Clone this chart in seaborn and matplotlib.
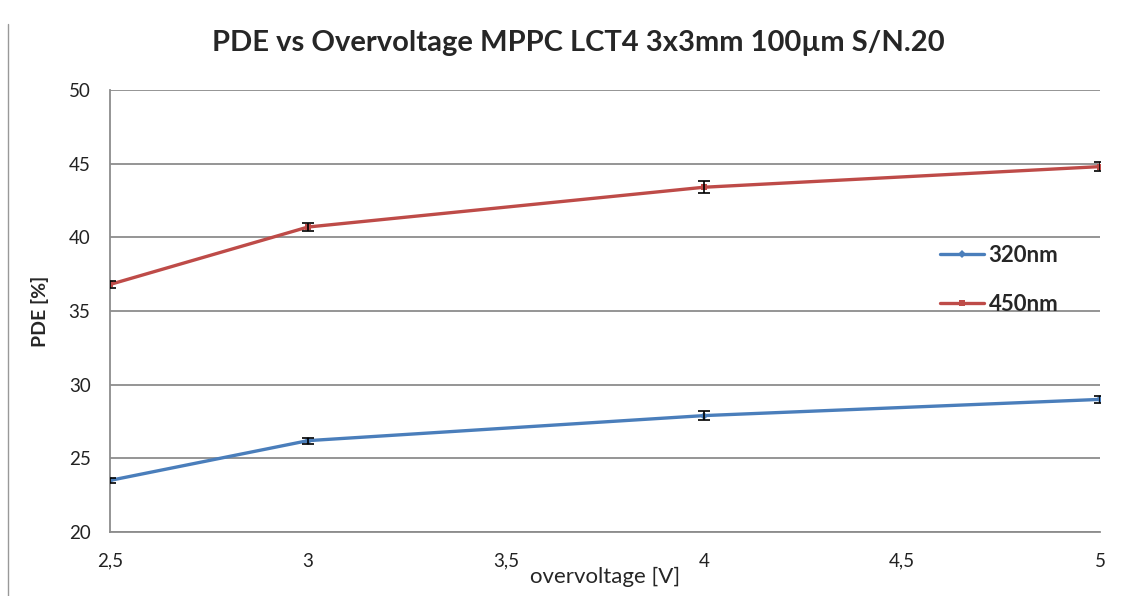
import numpy as np
import pandas as pd
import seaborn as sns
import matplotlib
matplotlib.use('Agg')
import matplotlib.pyplot as plt

overvoltage = [2.5, 3, 4, 5]
pde_320 = [23.5, 26.2, 27.9, 29.0]
pde_450 = [36.8, 40.7, 43.4, 44.8]
err_320 = [0.15, 0.2, 0.3, 0.25]
err_450 = [0.25, 0.3, 0.4, 0.3]
series = ['320nm', '450nm']

xticks = [2.5, 3, 3.5, 4, 4.5, 5]
xtick_labels = ['2,5', '3', '3,5', '4', '4,5', '5']
yticks = [20, 25, 30, 35, 40, 45, 50]

df = pd.DataFrame({
    'overvoltage': overvoltage * 2,
    'PDE': pde_320 + pde_450,
    'err': err_320 + err_450,
    'wavelength': [series[0]] * 4 + [series[1]] * 4,
})

sns.set_theme(style='white')
plt.rcParams['font.family'] = ['Lato', 'DejaVu Sans']

colors = {'320nm': '#4a7ebb', '450nm': '#be4b48'}
markers = {'320nm': 'D', '450nm': 's'}

fig = plt.figure(figsize=(11.29, 5.96), dpi=100)
ax = fig.add_axes([0.0974, 0.1074, 0.8769, 0.7416])

sns.lineplot(data=df, x='overvoltage', y='PDE', hue='wavelength', style='wavelength',
             palette=colors, markers=markers, dashes=False, markersize=4,
             markeredgewidth=0, linewidth=2.4, ax=ax)

for s in series:
    d = df[df['wavelength'] == s]
    ax.errorbar(d['overvoltage'], d['PDE'], yerr=d['err'], fmt='none',
                ecolor='black', elinewidth=1.2, capsize=4, capthick=1.2, zorder=5)

ax.set_xlim(2.5, 5)
ax.set_ylim(20, 50)
ax.set_xticks(xticks)
ax.set_xticklabels(xtick_labels)
ax.set_yticks(yticks)
ax.tick_params(axis='both', labelsize=13.5, colors='#222222', length=6,
               width=1, direction='out')
ax.tick_params(axis='x', color='#888888', pad=9)
ax.tick_params(axis='y', color='#888888', pad=8)
ax.yaxis.grid(True, color='#8c8c8c', linewidth=1.3)
ax.set_axisbelow(True)
for side in ['top', 'right']:
    ax.spines[side].set_visible(False)
for side in ['left', 'bottom']:
    ax.spines[side].set_color('#8c8c8c')
    ax.spines[side].set_linewidth(1.3)

ax.set_xlabel('overvoltage [V]', fontsize=16, labelpad=-2)
ax.set_ylabel('PDE [%]', fontsize=14, fontweight='bold', labelpad=14)
fig.text(0.512, 0.928, 'PDE vs Overvoltage MPPC LCT4 3x3mm 100µm S/N.20', fontsize=21,
         fontweight='bold', ha='center', va='center')

leg = ax.legend(loc='center left', bbox_to_anchor=(0.818, 0.57), frameon=False,
                fontsize=16, handlelength=2.0, handletextpad=0.2, labelspacing=1.25)
for t in leg.get_texts():
    t.set_fontweight('bold')

fig.add_artist(plt.Line2D([0.007, 0.007], [0.0, 0.96], color='#999999', linewidth=1))

fig.savefig('out.png', dpi=100)
